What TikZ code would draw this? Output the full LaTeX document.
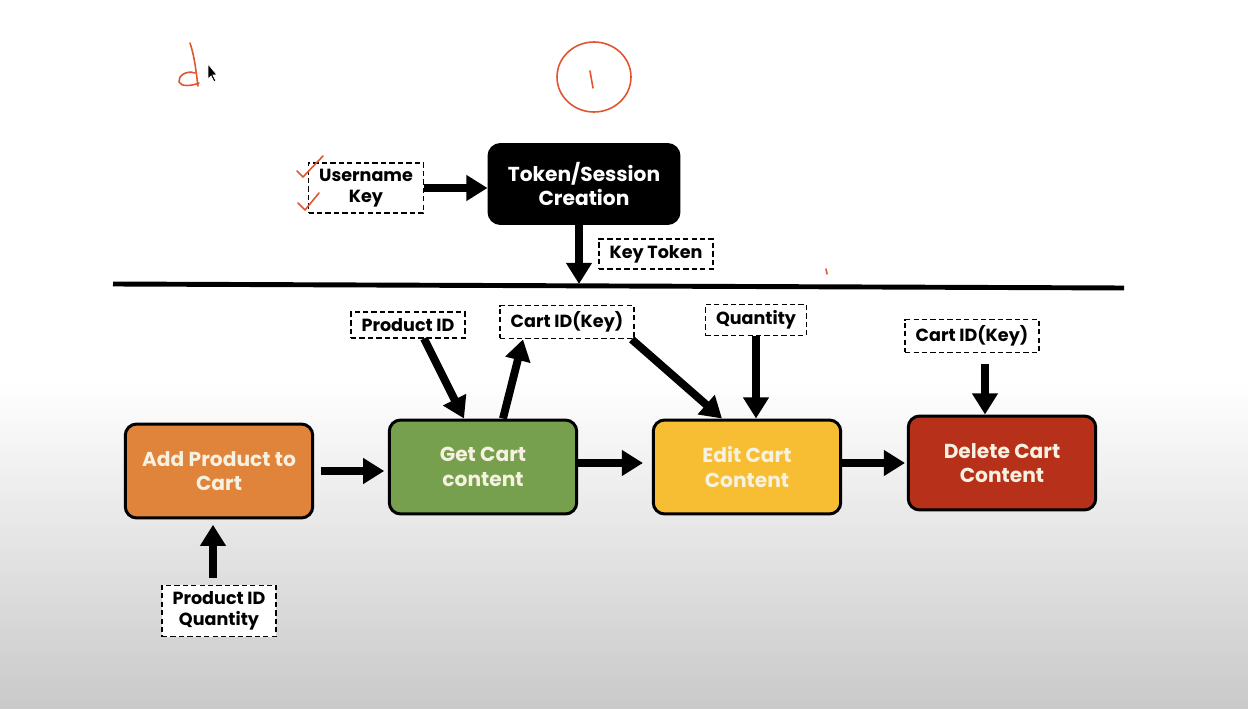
\documentclass[tikz,border=0pt]{standalone}
\usepackage{fontspec}
\setmainfont{Poppins}
\usetikzlibrary{arrows.meta,positioning}
\definecolor{addorange}{HTML}{E0833B}
\definecolor{getgreen}{HTML}{76A04D}
\definecolor{edityellow}{HTML}{F7BE34}
\definecolor{delred}{HTML}{B7301A}
\definecolor{penred}{HTML}{E0542E}
\definecolor{bggray}{HTML}{C9C9C9}
\definecolor{labelcream}{HTML}{F6F1E0}

\begin{document}
\begin{tikzpicture}[x=0.02cm,y=-0.02cm,
  stepbox/.style={draw=black,line width=1.7pt,rounded corners=6.5pt,minimum width=3.75cm,minimum height=1.88cm,
    align=center,text=labelcream,font=\fontsize{11.5}{14}\selectfont\bfseries},
  databox/.style={draw=black,line width=1pt,dash pattern=on 3pt off 1.8pt,fill=white,align=center,
    inner xsep=6pt,inner ysep=3.5pt,font=\fontsize{10}{12}\selectfont\bfseries},
  flow/.style={line width=4.5pt,-{Triangle[width=14pt,length=12pt]}},
  pen/.style={draw=penred,line width=0.9pt,line cap=round,line join=round}]
\useasboundingbox (0,0) rectangle (1248,709);
\fill[white] (0,0) rectangle (1248,709);
\shade[top color=white,bottom color=bggray] (0,380) rectangle (1248,709);

% login part
\node[databox] (user) at (366,188) {Username\\Key};
\node[stepbox,fill=black,text=white,minimum width=3.8cm,minimum height=1.58cm] (tok) at (584,184) {Token/Session\\Creation};
\node[databox] (keytok) at (656,254) {Key Token};
\draw[flow] (user.east) -- (user.east -| tok.west);
\coordinate (bar1) at (113,284);
\coordinate (bar2) at (1124,288);
\draw[line width=2.8pt] (bar1) -- (bar2);
\draw[flow] ([xshift=-0.1cm]tok.south) -- ([xshift=-0.1cm]tok.south |- bar1);

% cart steps
\node[stepbox,fill=addorange] (add) at (219,471) {Add Product to\\Cart};
\node[stepbox,fill=getgreen] (get) at (483,467) {Get Cart\\content};
\node[stepbox,fill=edityellow] (edit) at (747,467) {Edit Cart\\Content};
\node[stepbox,fill=delred] (del) at (1002,463) {Delete Cart\\Content};
\draw[flow,shorten <=4pt,shorten >=2pt] (add.east) -- (add.east -| get.west);
\draw[flow,shorten >=5pt] ([yshift=0.08cm]get.east) -- ([yshift=0.08cm]get.east -| edit.west);
\draw[flow,shorten >=1pt] ([yshift=0.08cm]edit.east) -- ([yshift=0.08cm]edit.east -| del.west);

% inputs
\node[databox] (pid) at (408,325) {Product ID};
\node[databox] (cid) at (567,322) {Cart ID(Key)};
\node[databox] (qty) at (756,320) {Quantity};
\node[databox] (cidb) at (972,336) {Cart ID(Key)};
\node[databox] (pidqty) at (219,611) {Product ID\\Quantity};
\draw[flow] ([xshift=0.32cm]pid.south) -- ([xshift=-0.38cm]get.north);
\draw[flow] ([xshift=0.4cm]get.north) -- ([xshift=-0.88cm]cid.south);
\draw[flow] ([xshift=-0.06cm]cid.south east) -- ([xshift=-0.5cm]edit.north);
\draw[flow] (qty.south) -- (qty.south |- edit.north);
\draw[flow,shorten <=6pt] ([xshift=0.26cm]cidb.south) -- ([xshift=0.26cm]cidb.south |- del.north);
\draw[flow,shorten <=4pt,shorten >=3pt] ([xshift=-0.12cm]pidqty.north) -- ([xshift=-0.12cm]pidqty.north |- add.south);

% pen marks
\draw[pen] (594,77) ellipse [x radius=37,y radius=35];
\draw[pen] (590,71) -- (593,88);
\draw[pen] (190,43) .. controls (195,58) and (196,72) .. (198,86);
\draw[pen] (195,73) .. controls (186,70) and (178,76) .. (179,82) .. controls (181,87) and (192,86) .. (199,83);
\draw[pen] (297,171) -- (303,177) -- (323,156);
\draw[pen] (298,203) -- (305,210) -- (319,193);
\draw[pen] (826,269) -- (827,274);
\fill[black,draw=white,line width=0.4pt] (208,64) -- (208,79) -- (211,76) -- (214,82) -- (216,81) -- (213,75) -- (217,75) -- cycle;
\end{tikzpicture}
\end{document}
